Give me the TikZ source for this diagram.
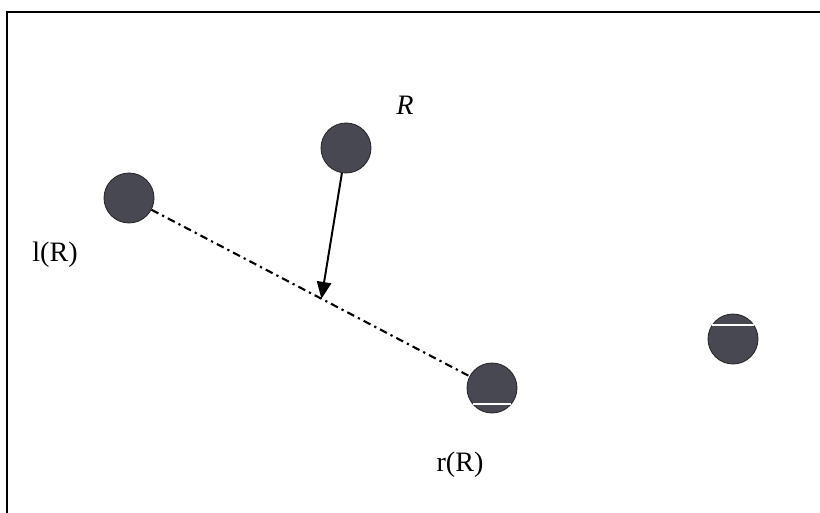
\documentclass[tikz,border=0pt]{standalone}
\usepackage{fontspec}
\setmainfont{Liberation Serif}
\usetikzlibrary{arrows.meta, positioning, calc}
\definecolor{dotgray}{RGB}{72,72,82}

\begin{document}
\begin{tikzpicture}[
    point/.style={circle, draw=black!85, line width=0.6pt, fill=#1, minimum size=1.25cm, inner sep=0pt},
    lbl/.style={font=\fontsize{20}{24}\selectfont, inner sep=0pt},
    chain/.style={line width=1.5pt, dash pattern=on 5.5pt off 3pt on 1.6pt off 3pt},
    arrow/.style={-{Triangle[length=0.42cm, width=0.36cm]}, line width=1.4pt},
    scar/.style={white, line width=1pt}
]
\useasboundingbox (0,0) rectangle (20.5,-12.825);

% ===== FRAME =====
\draw[line width=1.8pt] (0.175,-12.825) -- (0.175,-0.3) -- (20.5,-0.3);

% ===== POINTS =====
\node[point=dotgray] (lpt) at (3.225,-4.95) {};
\node[point=dotgray] (root) at (8.65,-3.7) {};
\node[point=dotgray] (rpt) at (12.3,-9.7) {};
\node[point=dotgray] (far) at (18.325,-8.475) {};

% scan marks across the points
\draw[scar] ($(rpt)+(-0.47,-0.4)$) -- ($(rpt)+(0.47,-0.4)$);
\draw[scar] ($(far)+(-0.52,0.35)$) -- ($(far)+(0.52,0.35)$);

% ===== LABELS =====
\node[lbl, font=\fontsize{20}{24}\selectfont\itshape] (rlabel) at (10.125,-2.625) {R};
\node[lbl] (llabel) at (1.375,-6.375) {l(R)};
\node[lbl] (rrlabel) at (11.5,-11.625) {r(R)};

% ===== SEGMENT AND PROJECTION =====
\coordinate (hit) at ($(lpt)!0.53!(rpt)$);
\draw[chain] (lpt) -- (rpt);
\draw[arrow] (root) -- (hit);

\end{tikzpicture}
\end{document}
